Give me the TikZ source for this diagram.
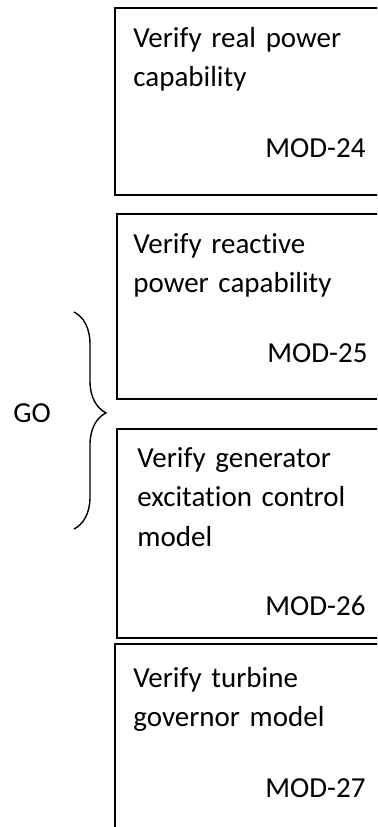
\documentclass[tikz,border=0pt]{standalone}
\usepackage{fontspec}
\setmainfont{Carlito}[Ligatures={NoCommon}]
\usepackage{tikz}
\usetikzlibrary{decorations.pathreplacing}

\tikzset{
  modbox/.style={draw, line width=0.8pt, anchor=north west, minimum width=140pt, inner sep=0pt},
  modtext/.style={anchor=base west, inner sep=0pt, text width=118pt, align=left},
  modid/.style={anchor=base west, inner sep=0pt},
}

\begin{document}
\begin{tikzpicture}[x=0.5pt, y=-0.5pt, every node/.append style={font=\fontsize{14.5}{19.75}\selectfont}]
        \useasboundingbox (0,0) rectangle (377,827);
        \clip (0,0) rectangle (377,827);

        \node[modbox, minimum height=93.5pt] (b24) at (114,7) {};
        \node[modbox, minimum height=92.5pt] (b25) at (116,213) {};
        \node[modbox, minimum height=104.5pt] (b26) at (116,428) {};
        \node[modbox, minimum height=110pt] (b27) at (114,643) {};

        \node[modtext] (t24) at (133,47) {Verify real power\\capability};
        \node[modtext] (t25) at (133,253) {Verify reactive\\power capability};
        \node[modtext] (t26) at (137,467) {Verify generator\\excitation control\\model};
        \node[modtext] (t27) at (133,687) {Verify turbine\\governor model};

        \node[modid] (m24) at (265,157) {MOD-24};
        \node[modid] (m25) at (267,362) {MOD-25};
        \node[modid] (m26) at (265,615) {MOD-26};
        \node[modid] (m27) at (265,797) {MOD-27};

        \node[modid] (go) at (13,422) {GO};
        \coordinate (brtop) at (74,312);
        \coordinate (brbot) at (74,529);
        \draw[line width=0.7pt, decorate, decoration={brace, amplitude=16pt, aspect=0.465}] (brtop) -- (brbot);
    \end{tikzpicture}
\end{document}
